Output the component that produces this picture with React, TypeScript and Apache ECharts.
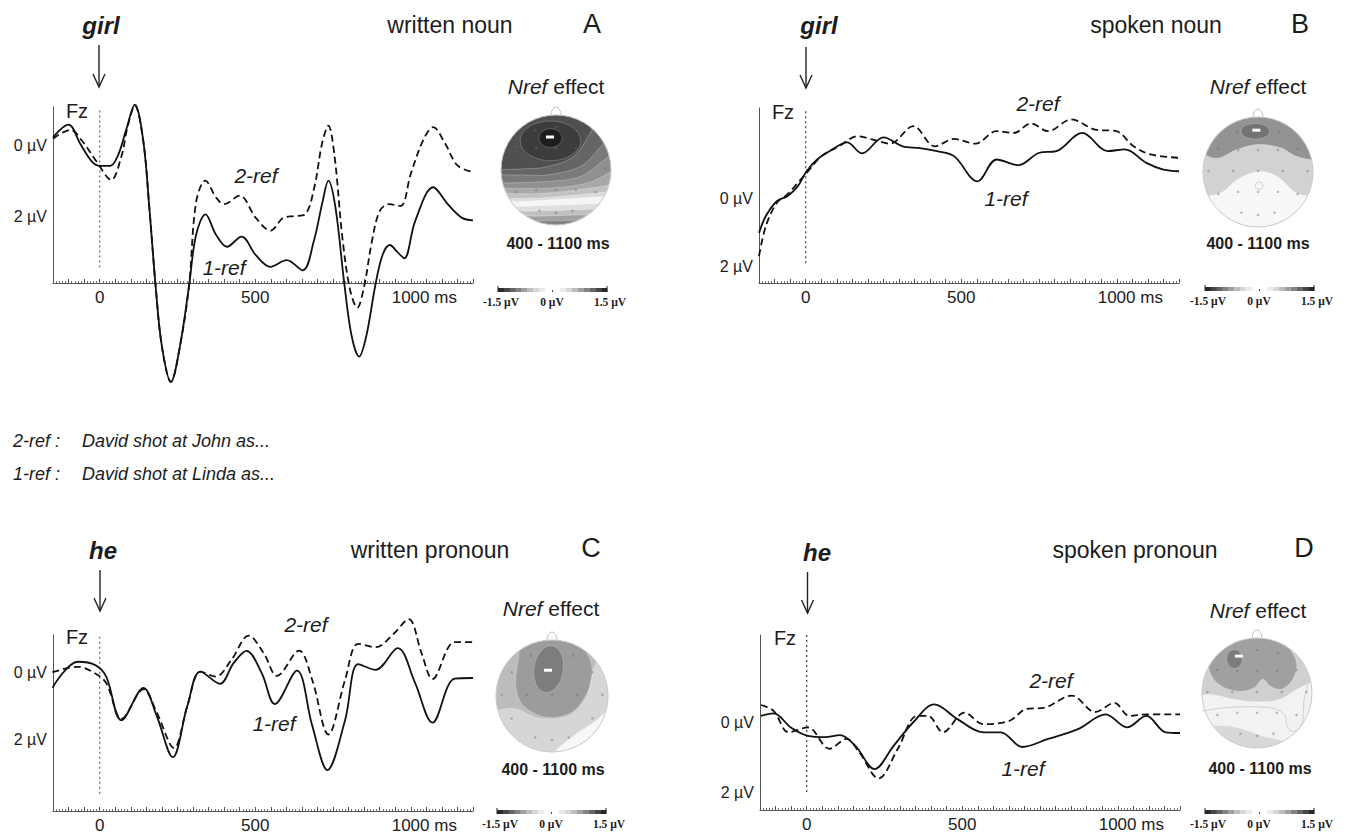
import React, { useEffect, useRef } from 'react';
import * as echarts from 'echarts';

const FONT = '"Liberation Sans", Arial, Helvetica, sans-serif';
const SERIF = '"Liberation Serif", "Times New Roman", serif';
const INK = '#1c1c1c';

// ---------- tick labels ----------
const X_LABEL_VALUES = [0, 500, 1000];
const X_LABEL_TEXTS = ['0', '500', '1000 ms'];
const Y_LABEL_VALUES = [0, 2];
const Y_LABEL_TEXTS = ['0 \u00b5V', '2 \u00b5V'];
const CBAR_TEXTS = ['-1.5 \u00b5V', '0 \u00b5V', '1.5 \u00b5V'];

// ---------- Panel A: written noun ----------
const A1_T = [-150, -100, -62, -25, 2, 34, 60, 85, 113, 140, 160, 180, 200, 229, 258, 287, 310, 340, 374, 409, 456, 502, 549, 601, 653, 688, 717, 735, 758, 787, 810, 834, 857, 886, 909, 933, 956, 979, 1014, 1072, 1119, 1165, 1200];
const A1_V = [-0.24, -0.6, -0.05, 0.45, 0.57, 0.57, 0.25, -0.45, -1.17, -0.15, 1.8, 4.0, 5.7, 6.71, 5.7, 4.0, 2.53, 1.95, 2.53, 2.87, 2.58, 3.11, 3.44, 3.25, 3.54, 2.72, 1.57, 0.99, 1.76, 3.97, 5.41, 5.99, 5.41, 3.97, 3.11, 2.82, 3.01, 3.2, 2.14, 1.18, 1.66, 2.05, 2.12];
const A2_T = [-150, -94, -55, -10, 37, 70, 90, 113, 140, 160, 180, 200, 229, 258, 287, 310, 340, 374, 400, 450, 502, 549, 590, 625, 660, 690, 715, 735, 755, 780, 805, 828, 850, 875, 900, 930, 967, 1000, 1040, 1072, 1110, 1150, 1200];
const A2_V = [-0.2, -0.45, -0.12, 0.45, 0.97, 0.3, -0.55, -1.14, -0.15, 1.8, 4.0, 5.7, 6.71, 5.7, 4.0, 1.6, 0.99, 1.47, 1.66, 1.42, 2.05, 2.41, 2.05, 2.0, 1.95, 1.18, -0.07, -0.57, 0.3, 2.6, 4.1, 4.6, 4.0, 2.72, 1.86, 1.66, 1.71, 0.8, -0.16, -0.53, -0.07, 0.56, 0.75];

// ---------- Panel B: spoken noun ----------
const B1_T = [-150, -128, -93, -59, -25, 3, 37, 78, 133, 181, 250, 312, 367, 422, 477, 552, 614, 683, 751, 806, 889, 971, 1026, 1095, 1150, 1200];
const B1_V = [1.01, 0.51, 0.07, -0.08, -0.38, -0.82, -1.17, -1.42, -1.68, -1.35, -1.83, -1.56, -1.51, -1.42, -1.27, -0.52, -1.17, -1.0, -1.37, -1.42, -1.96, -1.42, -1.47, -1.07, -0.87, -0.82];
const B2_T = [-150, -128, -93, -59, -25, 3, 51, 106, 168, 216, 271, 346, 415, 477, 545, 614, 669, 724, 779, 854, 930, 999, 1054, 1109, 1200];
const B2_V = [1.7, 0.81, 0.12, -0.13, -0.48, -0.77, -1.27, -1.56, -1.86, -1.76, -1.64, -2.16, -1.56, -1.78, -1.64, -2.01, -1.96, -2.24, -2.01, -2.36, -2.06, -2.01, -1.56, -1.32, -1.22];

// ---------- Panel C: written pronoun ----------
const C1_T = [-152, -70, -14, 21, 70, 141, 183, 235, 282, 324, 387, 430, 472, 521, 563, 634, 683, 732, 789, 831, 887, 958, 1014, 1070, 1141, 1200];
const C1_V = [0.46, -0.31, -0.21, 0.13, 1.42, 0.46, 1.28, 2.51, 0.99, -0.02, 0.34, -0.26, -0.63, 0.03, 0.94, -0.05, 1.57, 2.89, 1.41, -0.24, -0.07, -0.71, 0.32, 1.49, 0.19, 0.17];
const C2_T = [-152, -70, -21, 21, 70, 141, 183, 239, 282, 324, 373, 423, 479, 528, 570, 641, 683, 735, 789, 831, 887, 944, 993, 1035, 1070, 1141, 1200];
const C2_V = [0.0, -0.16, 0.0, 0.32, 1.38, 0.5, 1.18, 2.24, 0.99, -0.02, 0.13, -0.36, -1.08, -0.55, 0.11, -0.64, 0.22, 1.84, 0.22, -0.84, -0.74, -1.13, -1.57, -0.55, 0.2, -0.89, -0.89];

// ---------- Panel D: spoken pronoun ----------
const D1_T = [-147, -106, -51, 4, 59, 107, 156, 218, 280, 342, 410, 486, 569, 624, 693, 776, 872, 961, 1030, 1092, 1154, 1200];
const D1_V = [-0.19, -0.26, 0.14, 0.38, 0.42, 0.36, 0.66, 1.33, 0.66, 0.0, -0.52, -0.09, 0.28, 0.28, 0.7, 0.47, 0.19, -0.23, 0.14, -0.19, 0.28, 0.3];
const D2_T = [-147, -106, -58, 4, 73, 128, 169, 231, 293, 355, 390, 438, 507, 569, 652, 707, 762, 852, 927, 989, 1037, 1092, 1200];
const D2_V = [-0.5, -0.33, 0.28, 0.14, 0.75, 0.47, 0.85, 1.6, 0.75, -0.19, -0.19, 0.28, -0.28, 0.05, -0.05, -0.39, -0.42, -0.77, -0.3, -0.56, -0.19, -0.23, -0.23];

// stimulus-onset line extents (µV) per panel
const ZERO_A = [-1.0, 3.5];
const ZERO_B = [-2.6, 2.0];
const ZERO_C = [-1.05, 3.6];
const ZERO_D = [-2.5, 2.0];

const zip = (t: number[], v: number[]) => t.map((x, i) => [x, v[i]]);

type P = [number, number];

const PANELS = [
  { left: 53, top: 107, height: 176, yMin: -1.1, yMax: 3.9, one: zip(A1_T, A1_V), two: zip(A2_T, A2_V), zero: ZERO_A, zeroColor: '#7a7a7a',
    word: 'girl', wordPos: [101, 25], arrowX: 99, arrowY: [45, 87], title: 'written noun', titlePos: [450, 25], letter: 'A', letterPos: [592, 24],
    fz: [77, 111], twoPos: [256, 175], onePos: [224, 267] },
  { left: 759, top: 108, height: 175, yMin: -2.7, yMax: 2.5, one: zip(B1_T, B1_V), two: zip(B2_T, B2_V), zero: ZERO_B, zeroColor: '#555',
    word: 'girl', wordPos: [819, 25], arrowX: 806, arrowY: [47, 88], title: 'spoken noun', titlePos: [1156, 25], letter: 'B', letterPos: [1300, 24],
    fz: [783, 112], twoPos: [1038, 103], onePos: [1006, 198] },
  { left: 53, top: 635, height: 176, yMin: -1.1, yMax: 4.1, one: zip(C1_T, C1_V), two: zip(C2_T, C2_V), zero: ZERO_C, zeroColor: '#7a7a7a',
    word: 'he', wordPos: [103, 550], arrowX: 100, arrowY: [570, 611], title: 'written pronoun', titlePos: [430, 550], letter: 'C', letterPos: [591, 548],
    fz: [77, 637], twoPos: [306, 624], onePos: [274, 723] },
  { left: 760, top: 635, height: 175, yMin: -2.5, yMax: 2.5, one: zip(D1_T, D1_V), two: zip(D2_T, D2_V), zero: ZERO_D, zeroColor: '#555',
    word: 'he', wordPos: [817, 552], arrowX: 807.5, arrowY: [572, 613], title: 'spoken pronoun', titlePos: [1135, 550], letter: 'D', letterPos: [1304, 548],
    fz: [785, 638], twoPos: [1051, 680], onePos: [1023, 768] },
];

// ---------- scalp maps (decorative shapes, normalised head coords) ----------
type Layer = { kind: 'below' | 'above' | 'blob'; pts: P[]; fill: string };
type Ell = { x: number; y: number; rx: number; ry: number; rot?: number; fill: string };
type Head = { cx: number; cy: number; r: number; base: string; layers: Layer[]; ellipses: Ell[]; marker: P; ring?: [number, number, number];
  lines?: P[][]; nref: P; range: P; cbar: P };

const HEADS: Head[] = [
  { cx: 556, cy: 170, r: 55, base: '#505050', nref: [556, 86], range: [558, 243], cbar: [498, 288],
    layers: [
      { kind: 'below', fill: '#656565', pts: [[-1.1, 0.0], [-0.6, -0.02], [-0.16, -0.06], [0.32, -0.24], [0.62, -0.67], [0.75, -0.91], [1.1, -1.3]] },
      { kind: 'below', fill: '#7a7a7a', pts: [[-1.1, 0.09], [-0.6, 0.09], [-0.16, 0.09], [0.44, -0.06], [0.81, -0.42], [0.96, -0.61], [1.1, -0.75]] },
      { kind: 'below', fill: '#909090', pts: [[-1.1, 0.24], [-0.16, 0.21], [0.44, 0.12], [0.87, -0.18], [1.1, -0.35]] },
      { kind: 'below', fill: '#a8a8a8', pts: [[-1.1, 0.33], [-0.16, 0.33], [0.56, 0.24], [1.1, -0.02]] },
      { kind: 'below', fill: '#c2c2c2', pts: [[-1.1, 0.42], [-0.16, 0.42], [1.1, 0.26]] },
      { kind: 'below', fill: '#dcdcdc', pts: [[-1.1, 0.52], [-0.16, 0.5], [1.1, 0.38]] },
      { kind: 'below', fill: '#f5f5f5', pts: [[-1.1, 0.6], [1.1, 0.47]] },
      { kind: 'below', fill: '#dedede', pts: [[-1.1, 0.68], [1.1, 0.6]] },
      { kind: 'below', fill: '#c0c0c0', pts: [[-1.1, 0.77], [1.1, 0.7]] },
      { kind: 'below', fill: '#a0a0a0', pts: [[-1.1, 0.86], [1.1, 0.8]] },
      { kind: 'below', fill: '#828282', pts: [[-1.1, 0.94], [1.1, 0.9]] },
    ],
    ellipses: [
      { x: -0.1, y: -0.53, rx: 0.55, ry: 0.36, fill: '#3c3c3c' },
      { x: -0.1, y: -0.58, rx: 0.21, ry: 0.17, fill: '#1e1e1e' },
    ],
    marker: [-0.11, -0.6] },
  { cx: 1258, cy: 172, r: 55, base: '#f7f7f7', nref: [1258, 86], range: [1258, 243], cbar: [1205, 287],
    layers: [
      { kind: 'above', fill: '#d2d2d2', pts: [[-1.1, 0.46], [-0.68, 0.38], [-0.38, 0.14], [0, -0.01], [0.35, 0.08], [0.65, 0.35], [0.92, 0.44], [1.1, 0.44]] },
      { kind: 'above', fill: '#939393', pts: [[-1.1, -0.38], [-0.75, -0.25], [-0.38, -0.41], [0, -0.5], [0.41, -0.44], [0.71, -0.28], [1.1, -0.2]] },
    ],
    ellipses: [{ x: -0.05, y: -0.74, rx: 0.26, ry: 0.14, fill: '#737373' }],
    marker: [-0.03, -0.76], ring: [0.02, 0.25, 0.07] },
  { cx: 552, cy: 696, r: 56, base: '#bcbcbc', nref: [551, 608], range: [553, 769], cbar: [497, 810],
    layers: [
      { kind: 'below', fill: '#d6d6d6', pts: [[-1.1, 0.3], [-0.7, 0.22], [-0.2, 0.4], [0.3, 0.35], [0.62, 0.0], [0.75, -0.5], [0.9, -0.8], [1.1, -0.9]] },
      { kind: 'below', fill: '#f7f7f7', pts: [[-1.1, 1.3], [0, 1.2], [0.08, 0.97], [0.44, 0.67], [0.8, 0.43], [1.1, 0.12]] },
      { kind: 'blob', fill: '#9c9c9c', pts: [[-0.5, -1.2], [-0.6, -0.65], [-0.65, -0.23], [-0.55, 0.13], [-0.25, 0.34], [0.08, 0.38], [0.41, 0.25], [0.65, -0.11], [0.71, -0.55], [0.55, -0.9], [0.45, -1.2], [0, -1.35]] },
    ],
    ellipses: [{ x: -0.06, y: -0.48, rx: 0.26, ry: 0.42, rot: -0.15, fill: '#7d7d7d' }],
    marker: [-0.07, -0.46] },
  { cx: 1257, cy: 693, r: 55, base: '#f2f2f2', nref: [1258, 610], range: [1260, 768], cbar: [1205, 810],
    layers: [
      { kind: 'below', fill: '#d8d8d8', pts: [[-1.1, 0.62], [-0.5, 0.6], [0.1, 0.78], [0.7, 0.95], [1.1, 1.3]] },
      { kind: 'above', fill: '#d0d0d0', pts: [[-1.1, 0.05], [-0.8, 0.03], [-0.4, 0.12], [0, 0.16], [0.4, 0.12], [0.75, -0.08], [1.1, -0.25]] },
      { kind: 'blob', fill: '#a0a0a0', pts: [[-0.9, -0.65], [-0.82, -0.3], [-0.6, -0.1], [-0.3, -0.03], [-0.05, -0.1], [0.1, -0.25], [0.25, -0.12], [0.45, -0.07], [0.65, -0.25], [0.72, -0.55], [0.55, -0.88], [0.3, -1.3], [-0.3, -1.3], [-0.75, -1.0]] },
    ],
    ellipses: [{ x: -0.41, y: -0.62, rx: 0.14, ry: 0.17, fill: '#7c7c7c' }],
    lines: [[[-1, 0.33], [-0.6, 0.27], [-0.1, 0.25], [0.3, 0.28], [0.5, 0.4], [0.55, 0.6], [0.68, 0.7], [0.82, 0.55], [0.86, 0.1], [0.95, -0.25]]],
    marker: [-0.33, -0.67] },
];

const ELEC: P[] = [[0, -0.78], [-0.38, -0.72], [0.38, -0.72], [-0.72, -0.42], [-0.36, -0.4], [0, -0.4], [0.36, -0.4], [0.72, -0.42],
  [-0.9, -0.02], [-0.45, -0.02], [0, -0.02], [0.45, -0.02], [0.9, -0.02], [-0.72, 0.4], [-0.36, 0.36], [0, 0.36], [0.36, 0.36], [0.72, 0.4],
  [-0.3, 0.74], [0, 0.78], [0.3, 0.74]];

const CBAR_GRAYS = [40, 70, 100, 130, 160, 190, 215, 235];

function spline(pts: P[], closed: boolean, n = 12): P[] {
  const N = pts.length;
  const get = (i: number): P => (closed ? pts[((i % N) + N) % N] : pts[Math.max(0, Math.min(N - 1, i))]);
  const segs = closed ? N : N - 1;
  const out: P[] = [];
  for (let i = 0; i < segs; i++) {
    const p0 = get(i - 1), p1 = get(i), p2 = get(i + 1), p3 = get(i + 2);
    for (let k = 0; k < n; k++) {
      const t = k / n, t2 = t * t, t3 = t2 * t;
      const f = (a: number, b: number, c: number, d: number) =>
        0.5 * (2 * b + (-a + c) * t + (2 * a - 5 * b + 4 * c - d) * t2 + (-a + 3 * b - 3 * c + d) * t3);
      out.push([f(p0[0], p1[0], p2[0], p3[0]), f(p0[1], p1[1], p2[1], p3[1])]);
    }
  }
  if (!closed) out.push(pts[N - 1]);
  return out;
}

function dense(a: P, b: P, step = 0.03): P[] {
  const d = Math.hypot(b[0] - a[0], b[1] - a[1]);
  const n = Math.max(1, Math.ceil(d / step));
  const out: P[] = [];
  for (let k = 0; k < n; k++) out.push([a[0] + ((b[0] - a[0]) * k) / n, a[1] + ((b[1] - a[1]) * k) / n]);
  return out;
}

const clampUnit = (p: P): P => {
  const d = Math.hypot(p[0], p[1]);
  return d > 1 ? [p[0] / d, p[1] / d] : p;
};

function regionPts(kind: string, pts: P[]): P[] {
  if (kind === 'blob') {
    const s = spline(pts, true, 14);
    const out: P[] = [];
    for (let i = 0; i < s.length; i++) out.push(...dense(s[i], s[(i + 1) % s.length]));
    return out.map(clampUnit);
  }
  const b = spline(pts, false, 14);
  const s0 = b[0], e = b[b.length - 1];
  const Y = kind === 'below' ? 1.6 : -1.6;
  const loop: P[] = [e, [1.5, e[1]], [1.5, Y], [-1.5, Y], [-1.5, s0[1]], s0];
  const out: P[] = [...b];
  for (let i = 0; i < loop.length - 1; i++) out.push(...dense(loop[i], loop[i + 1]));
  return out.map(clampUnit);
}

const txt = (x: number, y: number, text: string, size: number, extra: any = {}) => ({
  type: 'text', x, y, silent: true, z: 10,
  style: { text, fontSize: size, fontFamily: FONT, fill: INK, align: 'center', verticalAlign: 'middle', ...extra },
});

function headEls(h: Head): any[] {
  const els: any[] = [];
  const tr = (p: P) => [h.cx + p[0] * h.r, h.cy + p[1] * h.r];
  const nose: number[][] = [];
  for (let k = 0; k <= 16; k++) {
    const a = Math.PI + (Math.PI * k) / 16;
    nose.push([h.cx + 5 * Math.cos(a), h.cy - h.r + 1 + 9 * Math.sin(a)]);
  }
  els.push({ type: 'polyline', silent: true, shape: { points: nose }, style: { stroke: '#bdbdbd', lineWidth: 1, fill: 'none' } });
  els.push({ type: 'circle', silent: true, shape: { cx: h.cx, cy: h.cy, r: h.r }, style: { fill: h.base } });
  h.layers.forEach((l) =>
    els.push({ type: 'polygon', silent: true, shape: { points: regionPts(l.kind, l.pts).map(tr) },
      style: { fill: l.fill, stroke: 'rgba(255,255,255,0.45)', lineWidth: 0.6 } }));
  h.ellipses.forEach((e) =>
    els.push({ type: 'ellipse', silent: true, x: h.cx + e.x * h.r, y: h.cy + e.y * h.r, rotation: e.rot || 0,
      shape: { cx: 0, cy: 0, rx: e.rx * h.r, ry: e.ry * h.r }, style: { fill: e.fill, stroke: 'rgba(255,255,255,0.35)', lineWidth: 0.6 } }));
  (h.lines || []).forEach((ln) =>
    els.push({ type: 'polyline', silent: true, shape: { points: spline(ln, false, 10).map(tr), smooth: 0 },
      style: { stroke: '#cfcfcf', lineWidth: 1, fill: 'none' } }));
  ELEC.forEach((p) => {
    const q = tr(p);
    els.push({ type: 'circle', silent: true, shape: { cx: q[0], cy: q[1], r: 1.3 }, style: { fill: 'rgba(110,110,110,0.45)' } });
  });
  if (h.ring) {
    const q = tr([h.ring[0], h.ring[1]]);
    els.push({ type: 'circle', silent: true, shape: { cx: q[0], cy: q[1], r: h.ring[2] * h.r }, style: { fill: 'none', stroke: '#cfcfcf', lineWidth: 1 } });
  }
  const m = tr(h.marker);
  els.push({ type: 'rect', silent: true, shape: { x: m[0] - 4, y: m[1] - 1.5, width: 8, height: 3 }, style: { fill: '#ffffff' } });
  els.push({ type: 'circle', silent: true, shape: { cx: h.cx, cy: h.cy, r: h.r }, style: { fill: 'none', stroke: '#c8c8c8', lineWidth: 1 } });

  // captions
  els.push(txt(h.nref[0], h.nref[1], '{i|Nref} effect', 21, { rich: { i: { fontStyle: 'italic', fontSize: 21, fontFamily: FONT, fill: INK } } }));
  els.push(txt(h.range[0], h.range[1], '400 - 1100 ms', 16, { fontWeight: 'bold' }));

  // colour bar
  const [x0, yb] = h.cbar;
  const sw = 47 / CBAR_GRAYS.length;
  CBAR_GRAYS.forEach((g, i) => {
    const c = `rgb(${g},${g},${g})`;
    els.push({ type: 'rect', silent: true, shape: { x: x0 + i * sw, y: yb, width: sw + 0.3, height: 4 }, style: { fill: c } });
    els.push({ type: 'rect', silent: true, shape: { x: x0 + 109 - (i + 1) * sw, y: yb, width: sw + 0.3, height: 4 }, style: { fill: c } });
  });
  els.push({ type: 'line', silent: true, shape: { x1: x0, y1: yb - 2, x2: x0, y2: yb + 4 }, style: { stroke: '#222', lineWidth: 1 } });
  els.push({ type: 'line', silent: true, shape: { x1: x0 + 109, y1: yb - 2, x2: x0 + 109, y2: yb + 4 }, style: { stroke: '#222', lineWidth: 1 } });
  els.push({ type: 'rect', silent: true, shape: { x: x0 + 54, y: yb + 2, width: 1, height: 2 }, style: { fill: '#444' } });
  const ly = yb + 14;
  const cb = { fontFamily: SERIF, fontWeight: 'bold' };
  els.push(txt(x0 + 3, ly, CBAR_TEXTS[0], 11.5, cb));
  els.push(txt(x0 + 54, ly, CBAR_TEXTS[1], 11.5, cb));
  els.push(txt(x0 + 112, ly, CBAR_TEXTS[2], 11.5, cb));
  return els;
}

function buildOption(): any {
  const grid: any[] = [];
  const xAxis: any[] = [];
  const yAxis: any[] = [];
  const series: any[] = [];
  const elements: any[] = [];

  PANELS.forEach((p, i) => {
    grid.push({ left: p.left, top: p.top, width: 420, height: p.height, outerBoundsMode: 'none' });
    xAxis.push({
      type: 'value', gridIndex: i, min: -150, max: 1200, interval: 50,
      axisLine: { show: true, onZero: false, lineStyle: { color: '#555', width: 1 } },
      axisTick: { show: true, inside: true, length: 4, lineStyle: { color: '#555', width: 1 } },
      minorTick: { show: true, splitNumber: 5, length: 2, lineStyle: { color: '#777', width: 1 } },
      splitLine: { show: false },
      axisLabel: {
        show: true, interval: 0, margin: 6, color: INK, fontSize: 17, fontFamily: FONT,
        formatter: (v: number) => {
          const k = X_LABEL_VALUES.findIndex((x) => Math.abs(x - v) < 1e-6);
          if (k < 0) return '';
          const s = X_LABEL_TEXTS[k];
          return s.indexOf('ms') >= 0 ? `{ms|${s}}` : s;
        },
        rich: { ms: { fontSize: 17, fontFamily: FONT, color: INK, padding: [0, 0, 0, 27] } },
      },
    });
    yAxis.push({
      type: 'value', gridIndex: i, inverse: true, min: p.yMin, max: p.yMax, interval: 0.1,
      axisLine: { show: true, onZero: false, lineStyle: { color: '#555', width: 1 } },
      axisTick: { show: false }, splitLine: { show: false },
      axisLabel: {
        show: true, interval: 0, margin: 6, color: INK, fontSize: 16, fontFamily: FONT,
        formatter: (v: number) => {
          const k = Y_LABEL_VALUES.findIndex((y) => Math.abs(y - v) < 1e-6);
          return k < 0 ? '' : Y_LABEL_TEXTS[k];
        },
      },
    });
    series.push({
      type: 'line', xAxisIndex: i, yAxisIndex: i, silent: true, symbol: 'none', z: 1,
      data: [[0, p.zero[0]], [0, p.zero[1]]],
      lineStyle: { color: p.zeroColor, width: 1.4, type: [2, 3] },
    });
    series.push({
      type: 'line', xAxisIndex: i, yAxisIndex: i, silent: true, symbol: 'none', z: 3, clip: false,
      smooth: 0.35, data: p.two,
      lineStyle: { color: '#111', width: 1.8, type: [7, 4] },
    });
    series.push({
      type: 'line', xAxisIndex: i, yAxisIndex: i, silent: true, symbol: 'none', z: 4, clip: false,
      smooth: 0.35, data: p.one,
      lineStyle: { color: '#111', width: 1.8 },
    });

    // annotations
    elements.push(txt(p.wordPos[0], p.wordPos[1], p.word, 24, { fontWeight: 'bold', fontStyle: 'italic' }));
    elements.push({ type: 'line', silent: true, shape: { x1: p.arrowX, y1: p.arrowY[0], x2: p.arrowX, y2: p.arrowY[1] }, style: { stroke: '#222', lineWidth: 1.4 } });
    elements.push({ type: 'polyline', silent: true, shape: { points: [[p.arrowX - 6, p.arrowY[1] - 13], [p.arrowX, p.arrowY[1]], [p.arrowX + 6, p.arrowY[1] - 13]] }, style: { stroke: '#222', lineWidth: 1.4, fill: 'none' } });
    elements.push(txt(p.titlePos[0], p.titlePos[1], p.title, 23));
    elements.push(txt(p.letterPos[0], p.letterPos[1], p.letter, 27));
    elements.push(txt(p.fz[0], p.fz[1], 'Fz', 20));
    elements.push(txt(p.twoPos[0], p.twoPos[1], '2-ref', 21, { fontStyle: 'italic' }));
    elements.push(txt(p.onePos[0], p.onePos[1], '1-ref', 21, { fontStyle: 'italic' }));
  });

  HEADS.forEach((h) => elements.push(...headEls(h)));

  // condition legend
  elements.push(txt(13, 441, '2-ref :', 18, { fontStyle: 'italic', align: 'left' }));
  elements.push(txt(82, 441, 'David shot at John as...', 18, { fontStyle: 'italic', align: 'left' }));
  elements.push(txt(13, 474, '1-ref :', 18, { fontStyle: 'italic', align: 'left' }));
  elements.push(txt(82, 474, 'David shot at Linda as...', 18, { fontStyle: 'italic', align: 'left' }));

  return { animation: false, backgroundColor: '#ffffff', grid, xAxis, yAxis, series, graphic: { elements } };
}

export default function App() {
  const ref = useRef<HTMLDivElement>(null);
  useEffect(() => {
    if (!ref.current) return;
    const chart = echarts.init(ref.current, null, { renderer: 'svg' });
    chart.setOption(buildOption());
    return () => chart.dispose();
  }, []);
  return <div ref={ref} style={{ position: 'fixed', left: 0, top: 0, width: 1347, height: 836, background: '#fff' }} />;
}
